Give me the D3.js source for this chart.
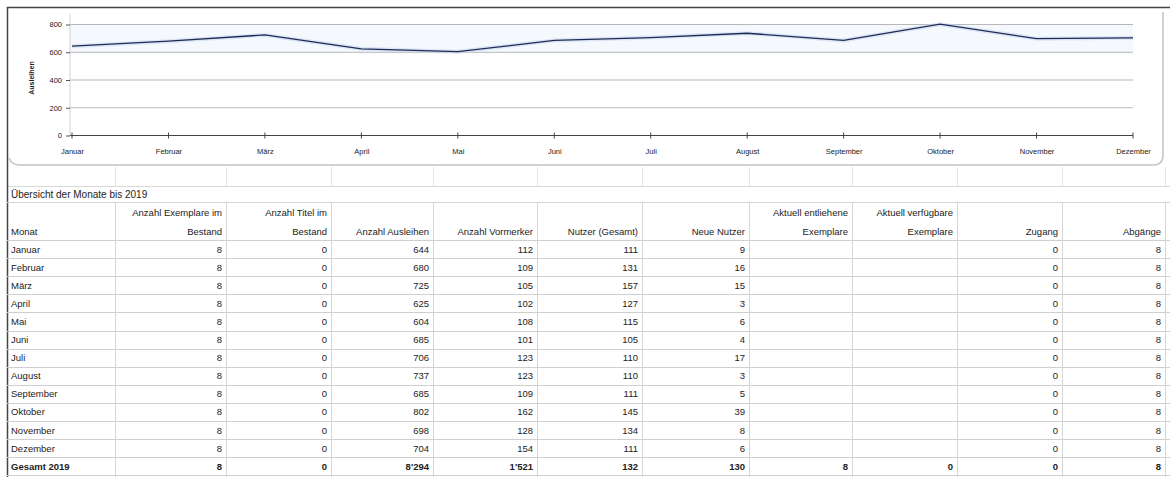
<!DOCTYPE html>
<html><head><meta charset="utf-8">
<script src="https://cdn.jsdelivr.net/npm/d3@7/dist/d3.min.js"></script>
<style>
html,body{margin:0;padding:0;background:#fff;}
svg text{font-family:"Liberation Sans Narrow","Liberation Sans",Arial,sans-serif;fill:#222;}
</style></head>
<body>
<svg id="c" width="1170" height="477"></svg>
<script>
const months = ["Januar","Februar","März","April","Mai","Juni","Juli","August","September","Oktober","November","Dezember"];
const yTicks = [0,200,400,600,800];
const yLabel = "Ausleihen";
const tableTitle = "Übersicht der Monate bis 2019";
const headers = [["","Monat"],["Anzahl Exemplare im","Bestand"],["Anzahl Titel im","Bestand"],["","Anzahl Ausleihen"],["","Anzahl Vormerker"],["","Nutzer (Gesamt)"],["","Neue Nutzer"],["Aktuell entliehene","Exemplare"],["Aktuell verfügbare","Exemplare"],["","Zugang"],["","Abgänge"]];
const bestand   = [8,8,8,8,8,8,8,8,8,8,8,8];
const titel     = [0,0,0,0,0,0,0,0,0,0,0,0];
const ausleihen = [644,680,725,625,604,685,706,737,685,802,698,704];
const vormerker = [112,109,105,102,108,101,123,123,109,162,128,154];
const nutzer    = [111,131,157,127,115,105,110,110,111,145,134,111];
const neueNutzer= [9,16,15,3,6,4,17,3,5,39,8,6];
const entliehen = ["","","","","","","","","","","",""];
const verfuegbar= ["","","","","","","","","","","",""];
const zugang    = [0,0,0,0,0,0,0,0,0,0,0,0];
const abgaenge  = [8,8,8,8,8,8,8,8,8,8,8,8];
const totalRow  = ["Gesamt 2019","8","0","8'294","1'521","132","130","8","0","0","8"];

const svg = d3.select("#c");
const colEdges = [7,115,226,331,433,537,642,749,852,957,1062,1165];

// spreadsheet background lines
const bg = svg.append("g");
colEdges.slice(1).forEach(x=>{
  bg.append("line").attr("x1",x+0.5).attr("x2",x+0.5).attr("y1",167).attr("y2",187).attr("stroke","#e6e6e6");
});
bg.append("line").attr("x1",7).attr("x2",1170).attr("y1",186.5).attr("y2",186.5).attr("stroke","#d8d8d8");

// chart frame
const frame = svg.append("g");
frame.append("path").attr("d","M1163,12 L1163,155 Q1163,165 1153,165 L20,165 Q12,165 9,158")
  .attr("fill","none").attr("stroke","#c4c4c4").attr("stroke-width",1.5);
frame.append("path").attr("d","M7.5,477 L7.5,7.5 L1170,7.5").attr("fill","none").attr("stroke","#444").attr("stroke-width",1.5);

// chart
const x = d3.scalePoint().domain(months).range([72,1133]);
const y = d3.scaleLinear().domain([0,800]).range([135.5,24.5]);
const g = svg.append("g");
g.append("rect").attr("x",70).attr("width",1133-70).attr("y",y(800)).attr("height",y(590)-y(800)).attr("fill","#f5f8fd");
yTicks.filter(v=>v>0).forEach(v=>{
  g.append("line").attr("x1",70).attr("x2",1133).attr("y1",y(v)).attr("y2",y(v)).attr("stroke","#b8b8b8").attr("stroke-width",1);
});
g.append("line").attr("x1",70).attr("x2",70).attr("y1",14).attr("y2",y(0)).attr("stroke","#d0d0d0");
const ya = g.append("g").attr("transform","translate(70,0)").call(d3.axisLeft(y).tickValues(yTicks).tickSize(4).tickPadding(4));
ya.select(".domain").remove();
ya.selectAll("line").attr("stroke","#555");
ya.selectAll("text").attr("fill","#333").style("font-size","7.5px");
const xa = g.append("g").attr("transform",`translate(0,${y(0)})`).call(d3.axisBottom(x).tickSize(0).tickPadding(13));
xa.select(".domain").attr("stroke","#444").attr("d",`M70,0H1133`);
xa.selectAll("text").attr("fill","#333").style("font-size","7.5px");
months.forEach(m=>{
  g.append("line").attr("x1",x(m)).attr("x2",x(m)).attr("y1",y(0)-3).attr("y2",y(0)+3).attr("stroke","#444");
});
g.append("text").attr("transform","translate(34,78) rotate(-90)").attr("text-anchor","middle")
  .style("font-size","7px").style("font-weight","bold").text(yLabel);
g.append("path").datum(ausleihen).attr("fill","none").attr("stroke","#c9d8ee").attr("stroke-width",4).attr("opacity",0.6)
  .attr("d",d3.line().x((d,i)=>x(months[i])).y(d=>y(d)));
g.append("path").datum(ausleihen).attr("fill","none").attr("stroke","#1f2b57").attr("stroke-width",1.3)
  .attr("d",d3.line().x((d,i)=>x(months[i])).y(d=>y(d)));

// table
const t = svg.append("g");
t.append("text").attr("x",11).attr("y",198).style("font-size","10px").text(tableTitle);
const rowTop = 240, rowH = 18.1;
const nRows = months.length + 1;
t.append("line").attr("x1",7).attr("x2",1170).attr("y1",202.5).attr("y2",202.5).attr("stroke","#d4d4d4");
for(let r=0;r<=nRows;r++){
  const yy = Math.round(rowTop + r*rowH)+0.5;
  t.append("line").attr("x1",7).attr("x2",1170).attr("y1",yy).attr("y2",yy).attr("stroke","#cfcfcf");
}
colEdges.slice(1).forEach(xx=>{
  t.append("line").attr("x1",xx+0.5).attr("x2",xx+0.5).attr("y1",203).attr("y2",477).attr("stroke","#d6d6d6");
});
headers.forEach((h,i)=>{
  const left = i===0;
  const tx = left ? 11 : colEdges[i+1]-4;
  h.forEach((line,k)=>{
    if(!line) return;
    t.append("text").attr("x",tx).attr("y",k===0?216:235).attr("text-anchor",left?"start":"end")
      .style("font-size","9.5px").text(line);
  });
});
const cols = [months,bestand,titel,ausleihen,vormerker,nutzer,neueNutzer,entliehen,verfuegbar,zugang,abgaenge];
months.forEach((m,r)=>{
  const by = rowTop + r*rowH + 12.5;
  cols.forEach((c,i)=>{
    const v = c[r];
    if(v==="" ) return;
    const left = i===0;
    t.append("text").attr("x",left?11:colEdges[i+1]-4).attr("y",by).attr("text-anchor",left?"start":"end")
      .style("font-size","9.5px").text(v);
  });
});
totalRow.forEach((v,i)=>{
  const by = rowTop + months.length*rowH + 12.5;
  const left = i===0;
  t.append("text").attr("x",left?11:colEdges[i+1]-4).attr("y",by).attr("text-anchor",left?"start":"end")
    .style("font-size","9.5px").style("font-weight","bold").text(v);
});
</script>
</body></html>
